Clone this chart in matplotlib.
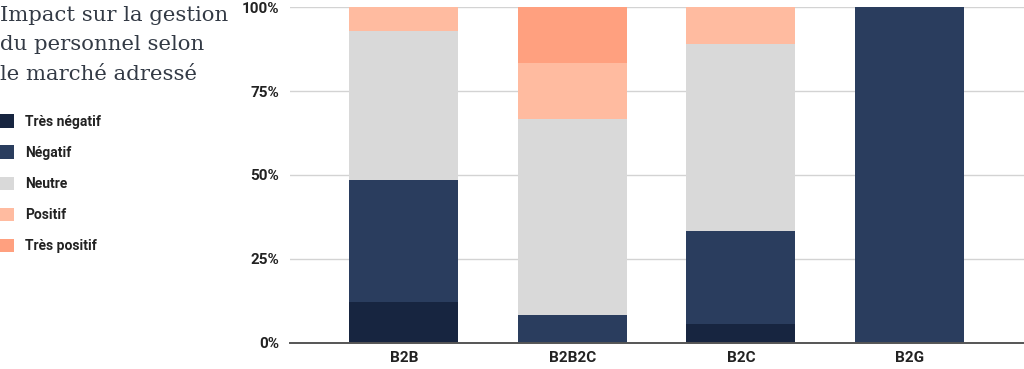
import numpy as np
from matplotlib import pyplot as plt
from matplotlib.ticker import FixedLocator, FuncFormatter

markets = ["B2B", "B2B2C", "B2C", "B2G"]
levels = ["Très négatif", "Négatif", "Neutre", "Positif", "Très positif"]

# shares in %, one list per impact level, in the order of markets
tres_negatif = [12.1, 0.0, 5.56, 0.0]
negatif = [36.3, 8.33, 27.78, 100.0]
neutre = [44.4, 58.33, 55.56, 0.0]
positif = [7.2, 16.67, 11.1, 0.0]
tres_positif = [0.0, 16.67, 0.0, 0.0]

level_colors = ["#172540", "#2a3d5e", "#d9d9d9", "#ffbba0", "#ffa07f"]

fig = plt.figure(figsize=(10.24, 3.69), dpi=100)
axis = fig.add_axes([0.2832, 0.0705, 0.7168, 0.9105])

ticks = np.arange(len(markets))
bottom = np.zeros(len(markets))
handles = []
for label, values, color in zip(
    levels, [tres_negatif, negatif, neutre, positif, tres_positif], level_colors
):
    values = np.array(values)
    bars = axis.bar(ticks, values, 0.645, bottom=bottom, color=color, label=label,
                    zorder=2, linewidth=0)
    handles.append(bars)
    bottom = bottom + values

axis.set_xlim(-0.675, 3.68)
axis.set_ylim(0, 100)
axis.yaxis.set_major_locator(FixedLocator([0, 25, 50, 75, 100]))
axis.yaxis.set_major_formatter(FuncFormatter(lambda v, _: f"{v:.0f}%"))
axis.yaxis.grid(True, color="#d3d3d3", linewidth=1.0, zorder=0)
axis.set_axisbelow(True)
axis.set_xticks(ticks)
axis.set_xticklabels(markets)

for side in ["top", "right", "left"]:
    axis.spines[side].set_visible(False)
axis.spines["bottom"].set_color("#555555")
axis.spines["bottom"].set_linewidth(1.4)
axis.spines["bottom"].set_zorder(3)
axis.tick_params(axis="both", length=0, labelsize=11, labelcolor="#222222")
axis.tick_params(axis="y", pad=8)
axis.tick_params(axis="x", pad=6)
for lbl in axis.get_xticklabels() + axis.get_yticklabels():
    lbl.set_fontfamily("Roboto")
    lbl.set_fontweight("bold")

fig.text(0.0, 0.985, "Impact sur la gestion\ndu personnel selon\nle marché adressé",
         ha="left", va="top", fontsize=15.3, family="DejaVu Serif",
         color="#333a45", linespacing=1.72)

fig.legend(handles=handles, labels=levels, loc="upper left",
           bbox_to_anchor=(-0.001, 0.69), frameon=False,
           prop={"family": "Roboto", "weight": "bold", "size": 10},
           handlelength=1.1, handleheight=1.1, handletextpad=0.8,
           labelspacing=1.2, borderpad=0, borderaxespad=0, labelcolor="#222222")

fig.savefig("out.png", dpi=100)
